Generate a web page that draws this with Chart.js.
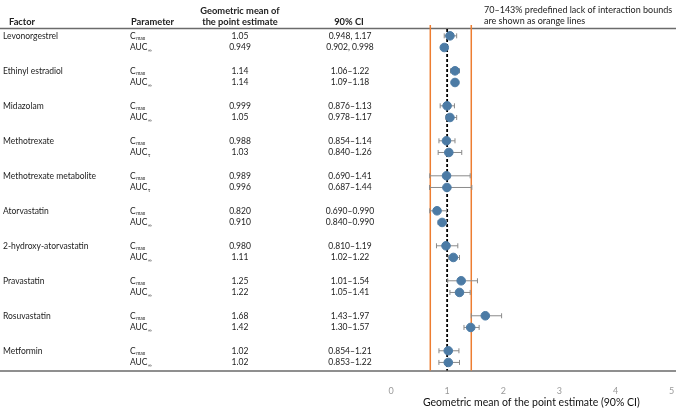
<!DOCTYPE html>
<html>
<head>
<meta charset="utf-8">
<script src="https://cdn.jsdelivr.net/npm/chart.js@4.4.1/dist/chart.umd.min.js"></script>
<style>
  body { margin: 0; background: #fff; }
  #wrap { position: relative; width: 677px; height: 409px; }
</style>
</head>
<body>
<div id="wrap"><canvas id="forest"></canvas></div>
<script>
// datos del gráfico
const factors = ['Levonorgestrel', 'Ethinyl estradiol', 'Midazolam', 'Methotrexate', 'Methotrexate metabolite',
  'Atorvastatin', '2-hydroxy-atorvastatin', 'Pravastatin', 'Rosuvastatin', 'Metformin'];
const aucSub = ['∞', '∞', '∞', 'τ', 'τ', '∞', '∞', '∞', '∞', '∞'];
const estimates = [1.05, 0.949, 1.14, 1.14, 0.999, 1.05, 0.988, 1.03, 0.989, 0.996,
  0.820, 0.910, 0.980, 1.11, 1.25, 1.22, 1.68, 1.42, 1.02, 1.02];
const estText = ['1.05', '0.949', '1.14', '1.14', '0.999', '1.05', '0.988', '1.03', '0.989', '0.996',
  '0.820', '0.910', '0.980', '1.11', '1.25', '1.22', '1.68', '1.42', '1.02', '1.02'];
const ciLow = [0.948, 0.902, 1.06, 1.09, 0.876, 0.978, 0.854, 0.840, 0.690, 0.687,
  0.690, 0.840, 0.810, 1.02, 1.01, 1.05, 1.43, 1.30, 0.854, 0.853];
const ciHigh = [1.17, 0.998, 1.22, 1.18, 1.13, 1.17, 1.14, 1.26, 1.41, 1.44,
  0.990, 0.990, 1.19, 1.22, 1.54, 1.41, 1.97, 1.57, 1.21, 1.22];
const ciText = ['0.948, 1.17', '0.902, 0.998', '1.06–1.22', '1.09–1.18', '0.876–1.13', '0.978–1.17',
  '0.854–1.14', '0.840–1.26', '0.690–1.41', '0.687–1.44', '0.690–0.990', '0.840–0.990',
  '0.810–1.19', '1.02–1.22', '1.01–1.54', '1.05–1.41', '1.43–1.97', '1.30–1.57', '0.854–1.21', '0.853–1.22'];
const bounds = [0.7, 1.43];
const xTicks = [0, 1, 2, 3, 4, 5];

const FONT = 'Lato, "Liberation Sans", sans-serif';

// fila de cada estimación: 3 posiciones por factor (Cmax, AUC, hueco)
const rowOf = i => Math.floor(i / 2) * 3 + (i % 2);
const points = estimates.map((v, i) => ({ x: v, y: rowOf(i) }));

const forestPlugin = {
  id: 'forest',
  beforeDatasetsDraw(chart) {
    const { ctx, chartArea, scales } = chart;
    const x = scales.x, y = scales.y;
    ctx.save();
    // líneas horizontales
    ctx.strokeStyle = '#6b6b6b';
    ctx.lineWidth = 1.5;
    ctx.beginPath();
    ctx.moveTo(0, 28.5); ctx.lineTo(676, 28.5);
    ctx.moveTo(0, chartArea.bottom + 0.5); ctx.lineTo(676, chartArea.bottom + 0.5);
    ctx.stroke();
    // límites naranjas
    ctx.strokeStyle = '#ed7d31';
    ctx.lineWidth = 1.5;
    bounds.forEach(b => {
      const px = x.getPixelForValue(b);
      ctx.beginPath();
      ctx.moveTo(px, 25); ctx.lineTo(px, chartArea.bottom);
      ctx.stroke();
    });
    // línea discontinua en 1
    const p1 = x.getPixelForValue(1);
    ctx.strokeStyle = '#000';
    ctx.lineWidth = 1.8;
    ctx.setLineDash([3, 2]);
    ctx.beginPath();
    ctx.moveTo(p1, 29); ctx.lineTo(p1, chartArea.bottom);
    ctx.stroke();
    ctx.setLineDash([]);
    // barras de error
    ctx.strokeStyle = '#8a8a8a';
    ctx.lineWidth = 1;
    estimates.forEach((v, i) => {
      const py = y.getPixelForValue(rowOf(i));
      const a = x.getPixelForValue(ciLow[i]);
      const b = x.getPixelForValue(ciHigh[i]);
      ctx.beginPath();
      ctx.moveTo(a, py); ctx.lineTo(b, py);
      ctx.moveTo(a, py - 2.5); ctx.lineTo(a, py + 2.5);
      ctx.moveTo(b, py - 2.5); ctx.lineTo(b, py + 2.5);
      ctx.stroke();
    });
    ctx.restore();
  },
  afterDraw(chart) {
    const { ctx, scales } = chart;
    const y = scales.y;
    ctx.save();
    ctx.fillStyle = '#222';
    ctx.textBaseline = 'middle';
    // encabezados
    ctx.font = 'bold 9.3px ' + FONT;
    ctx.textAlign = 'left';
    ctx.fillText('Factor', 9, 22);
    ctx.fillText('Parameter', 131, 22);
    ctx.textAlign = 'center';
    ctx.fillText('Geometric mean of', 240, 11);
    ctx.fillText('the point estimate', 240, 22);
    ctx.fillText('90% CI', 349, 22);
    ctx.font = '9px ' + FONT;
    ctx.textAlign = 'left';
    ctx.fillText('70–143% predefined lack of interaction bounds', 484, 10);
    ctx.fillText('are shown as orange lines', 484, 21);
    // filas de la tabla
    estimates.forEach((v, i) => {
      const py = y.getPixelForValue(rowOf(i));
      const f = Math.floor(i / 2);
      ctx.font = '8.5px ' + FONT;
      ctx.textAlign = 'left';
      if (i % 2 === 0) ctx.fillText(factors[f], 3, py);
      const main = i % 2 === 0 ? 'C' : 'AUC';
      const sub = i % 2 === 0 ? 'max' : aucSub[f];
      ctx.fillText(main, 130, py);
      const w = ctx.measureText(main).width;
      ctx.font = '5px ' + FONT;
      ctx.fillText(sub, 130 + w + 0.5, py + 2.5);
      ctx.font = '8.5px ' + FONT;
      ctx.textAlign = 'center';
      ctx.fillText(estText[i], 240, py);
      ctx.fillText(ciText[i], 350, py);
    });
    ctx.restore();
  }
};

new Chart(document.getElementById('forest'), {
  type: 'scatter',
  data: {
    datasets: [{
      label: 'Point estimate',
      data: points,
      backgroundColor: '#4c7ba5',
      borderColor: '#4c7ba5',
      pointRadius: 4.3,
      pointHoverRadius: 4.3
    }]
  },
  options: {
    responsive: true,
    maintainAspectRatio: false,
    animation: false,
    events: [],
    layout: { padding: { left: 391, right: 0, top: 30, bottom: 0 } },
    plugins: { legend: { display: false }, tooltip: { enabled: false } },
    scales: {
      x: {
        type: 'linear',
        min: 0,
        max: 5,
        afterBuildTicks: axis => { axis.ticks = xTicks.map(v => ({ value: v })); },
        afterFit: axis => { axis.paddingRight = 0; axis.paddingLeft = 0; },
        grid: { display: false, drawTicks: true, tickLength: 15 },
        border: { display: false },
        ticks: { color: '#9a9a9a', font: { size: 9, family: FONT }, padding: 0, maxRotation: 0 },
        title: {
          display: true,
          text: 'Geometric mean of the point estimate (90% CI)',
          color: '#111',
          font: { size: 10.5, family: FONT },
          padding: { top: 0, bottom: 0 }
        }
      },
      y: {
        type: 'linear',
        reverse: true,
        min: -0.5,
        max: 28.7,
        display: false
      }
    }
  },
  plugins: [forestPlugin]
});
</script>
</body>
</html>
